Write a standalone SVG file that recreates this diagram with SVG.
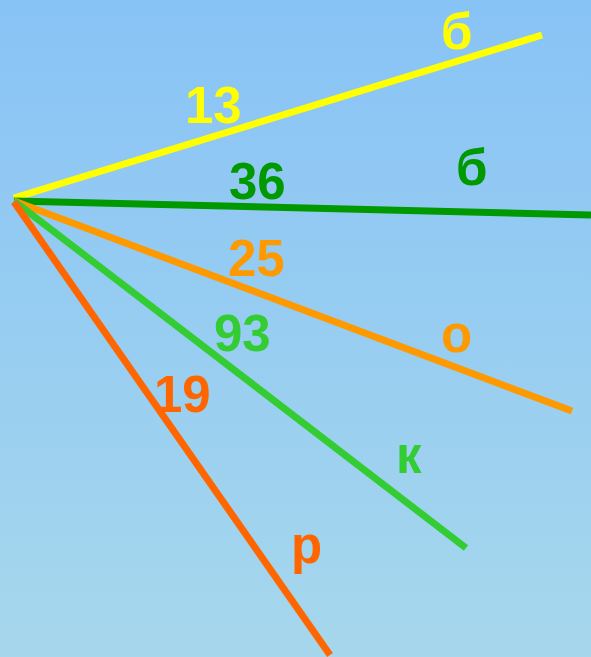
<svg xmlns="http://www.w3.org/2000/svg" width="591" height="657" viewBox="0 0 591 657">
<defs>
<linearGradient id="bg" x1="0" y1="0" x2="0" y2="1">
<stop offset="0" stop-color="#88c3f6"/>
<stop offset="1" stop-color="#a6d7ec"/>
</linearGradient>
<style>
.l{stroke-width:7;fill:none;stroke-linecap:butt}
.t{font-family:"Liberation Sans",Arial,sans-serif;font-weight:bold;font-size:51px}
</style>
</defs>
<rect width="591" height="657" fill="url(#bg)"/>
<g id="connectors">
<line class="l" x1="14" y1="198" x2="542" y2="35" stroke="#ffff00"/>
<line class="l" x1="14" y1="201" x2="591" y2="215" stroke="#009900"/>
<line class="l" x1="14" y1="201" x2="572" y2="411" stroke="#ff9900"/>
<line class="l" x1="14" y1="201" x2="466" y2="548" stroke="#33cc33"/>
<line class="l" x1="14" y1="202" x2="330" y2="655" stroke="#ff6600"/>
</g>
<g id="labels">
<text class="t" x="185" y="123" fill="#ffff00">13</text>
<text class="t" x="441" y="49" fill="#ffff00">б</text>
<text class="t" x="229" y="199" fill="#009900">36</text>
<text class="t" x="456" y="185" fill="#009900">б</text>
<text class="t" x="228" y="276" fill="#ff9900">25</text>
<text class="t" x="441" y="352" fill="#ff9900">о</text>
<text class="t" x="214" y="351" fill="#33cc33">93</text>
<text class="t" x="396" y="473" fill="#33cc33">к</text>
<text class="t" x="154" y="412" fill="#ff6600">19</text>
<text class="t" x="291" y="563" fill="#ff6600">р</text>
</g>
</svg>
